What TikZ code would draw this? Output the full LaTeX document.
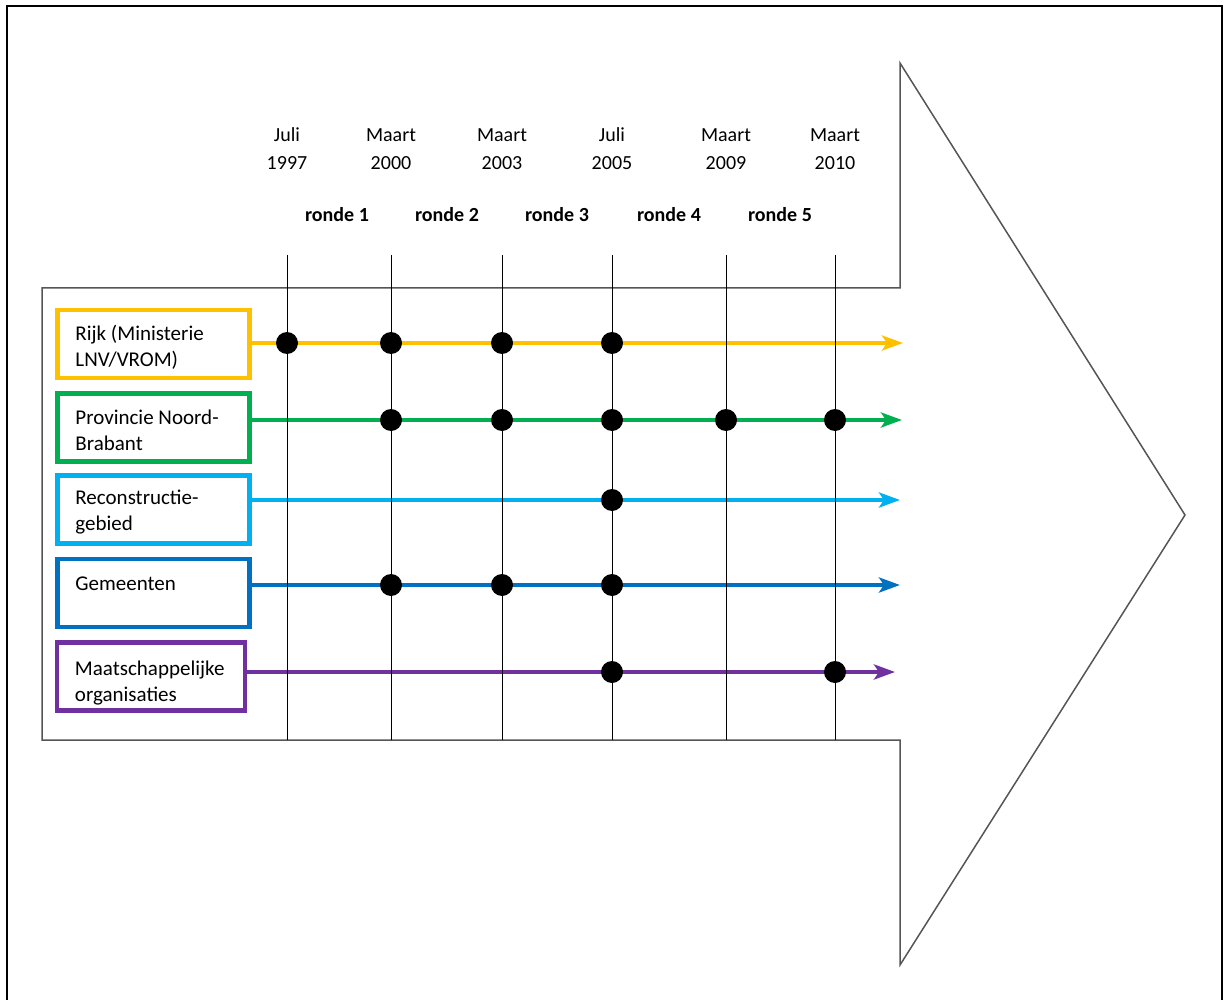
\documentclass[tikz,border=0pt]{standalone}
\usepackage{fontspec}
\setmainfont{Carlito}
\usetikzlibrary{arrows.meta}
\definecolor{rijkcol}{HTML}{FFC000}
\definecolor{provcol}{HTML}{00B050}
\definecolor{recocol}{HTML}{00B0F0}
\definecolor{gemcol}{HTML}{0070C0}
\definecolor{maatcol}{HTML}{7030A0}
\definecolor{shaftcol}{HTML}{555555}

\begin{document}
\begin{tikzpicture}[x=1pt,y=-1pt,
	every node/.style={font=\fontsize{21}{26}\selectfont},
	orgbox/.style={rectangle,draw,line width=4.5pt,minimum width=192pt,minimum height=68pt,inner sep=0pt},
	orgtext/.style={anchor=north west,align=left,inner sep=0pt},
	datum/.style={align=center,font=\fontsize{20}{28}\selectfont},
	ronde/.style={font=\fontsize{20}{24}\selectfont\bfseries},
	dot/.style={circle,fill=black,minimum size=22pt,inner sep=0pt},
	tl/.style={line width=4.8pt,-{Stealth[length=21pt,width=15pt,inset=5pt]}}]
	\useasboundingbox (0,0) rectangle (1226,1000);
	% frame and big arrow
	\draw [line width=2.5pt] (7,1000) -- (7,6) -- (1222,6) -- (1222,1000);
	\draw [shaftcol,line width=1.5pt,line join=miter] (42,288) -- (900,288) -- (900,63) -- (1185,515)
		-- (900,965) -- (900,740) -- (42,740) -- cycle;
	% dates
	\node (d1997) at (287,149) [datum] {Juli\\1997};
	\node (d2000) at (391,149) [datum] {Maart\\2000};
	\node (d2003) at (502,149) [datum] {Maart\\2003};
	\node (d2005) at (612,149) [datum] {Juli\\2005};
	\node (d2009) at (726,149) [datum] {Maart\\2009};
	\node (d2010) at (835,149) [datum] {Maart\\2010};
	\node (r1) at (337,215) [ronde] {ronde 1};
	\node (r2) at (447,215) [ronde] {ronde 2};
	\node (r3) at (557,215) [ronde] {ronde 3};
	\node (r4) at (669,215) [ronde] {ronde 4};
	\node (r5) at (780,215) [ronde] {ronde 5};
	% actors
	\node (rijk) at (153.5,344) [orgbox,draw=rijkcol] {};
	\node (prov) at (153.5,427.5) [orgbox,draw=provcol] {};
	\node (reco) at (153.5,509.5) [orgbox,draw=recocol] {};
	\node (gem) at (153.5,593) [orgbox,draw=gemcol] {};
	\node (maat) at (151,676.5) [orgbox,draw=maatcol,minimum width=188pt] {};
	\node (rijktxt) at ([xshift=20pt,yshift=-17pt]rijk.north west) [orgtext] {Rijk (Ministerie\\LNV/VROM)};
	\node (provtxt) at ([xshift=20pt,yshift=-18pt]prov.north west) [orgtext] {Provincie Noord-\\Brabant};
	\node (recotxt) at ([xshift=20pt,yshift=-17pt]reco.north west) [orgtext] {Reconstructie-\\gebied};
	\node (gemtxt) at ([xshift=20pt,yshift=-20pt]gem.north west) [orgtext] {Gemeenten};
	\node (maattxt) at ([xshift=20pt,yshift=-20pt]maat.north west) [orgtext] {Maatschappelijke\\organisaties};
	% time lines
	\coordinate (rijkend) at (903,343);
	\coordinate (provend) at (902,420);
	\coordinate (recoend) at (900,500);
	\coordinate (gemend) at (900,585);
	\coordinate (maatend) at (895,672);
	\draw [tl,rijkcol] (rijk.east |- rijkend) -- (rijkend);
	\draw [tl,provcol] (prov.east |- provend) -- (provend);
	\draw [tl,recocol] (reco.east |- recoend) -- (recoend);
	\draw [tl,gemcol] (gem.east |- gemend) -- (gemend);
	\draw [tl,maatcol] (maat.east |- maatend) -- (maatend);
	\foreach \x in {287,391,502,612,726,835}
		\draw [line width=1pt] (\x,255) -- (\x,740);
	% meetings
	\foreach \x in {287,391,502,612}
		\node at (\x,343) [dot] {};
	\foreach \x in {391,502,612,726,835}
		\node at (\x,420) [dot] {};
	\node at (612,500) [dot] {};
	\foreach \x in {391,502,612}
		\node at (\x,585) [dot] {};
	\foreach \x in {612,835}
		\node at (\x,672) [dot] {};
\end{tikzpicture}
\end{document}
